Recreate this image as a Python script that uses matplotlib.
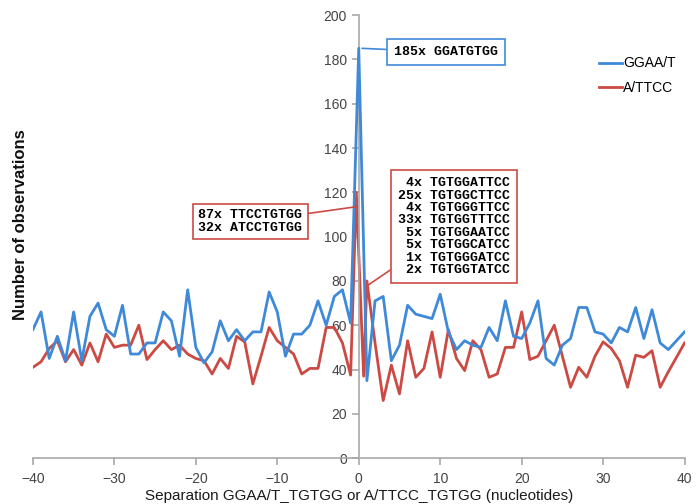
import matplotlib
matplotlib.use('Agg')
import matplotlib.pyplot as plt

# separation (nt) and counts
sep = list(range(-40, 41))
ggaa = [58, 66, 45, 55, 44, 66, 44, 64, 70, 58,
        55, 69, 47, 47, 52, 52, 66, 62, 46, 76,
        50, 43, 48, 62, 53, 58, 53, 57, 57, 75,
        66, 46, 56, 56, 60, 71, 60, 73, 76, 61,
        185,
        35, 71, 73, 44, 51, 69, 65, 64, 63, 74,
        57, 49, 53, 51, 50, 59, 53, 71, 55, 54,
        61, 71, 45, 42, 51, 54, 68, 68, 57, 56,
        52, 59, 57, 68, 54, 67, 52, 49, 53, 57]

sep_r = list(range(-40, 0)) + [-0.3, 0.6] + list(range(1, 41))
attcc = [41, 43.5, 49.5, 53, 43.5, 49, 42, 52, 43.5, 56,
         50, 51, 51, 60, 44.5, 49, 53, 49, 51, 47,
         45, 44, 38, 45, 40.5, 55, 52.5, 33.5, 46, 59,
         53, 50, 47, 38, 40.5, 40.5, 59, 59, 52, 37.5,
         120, 37,
         80, 52, 26, 42, 29, 53, 36.5, 40.5, 57, 36.5,
         58, 45, 39.5, 53, 49, 36.5, 38, 50, 50, 66,
         44.5, 46, 53, 60, 46, 32, 41, 36.5, 46, 52.5,
         49.5, 44, 32, 46.5, 45.5, 48.5, 32, 39, 45.5, 52]

BLUE = '#3f8ad8'
RED = '#cc4a44'
AXCOL = '#a8a8a8'

fig = plt.figure(figsize=(7, 5.04), dpi=100)
ax = fig.add_axes([0.047, 0.091, 0.931, 0.879])

ax.plot(sep, ggaa, color=BLUE, lw=2, label='GGAA/T', zorder=3)
ax.plot(sep_r, attcc, color=RED, lw=2, label='A/TTCC', zorder=2)

ax.set_xlim(-40, 40)
ax.set_ylim(0, 200)
ax.set_xticks(range(-40, 41, 10))
ax.set_yticks(range(0, 201, 20))

# y axis sits at separation 0
ax.spines['left'].set_position(('data', 0))
ax.spines['top'].set_visible(False)
ax.spines['right'].set_visible(False)
for s in ('left', 'bottom'):
    ax.spines[s].set_color(AXCOL)
    ax.spines[s].set_linewidth(1.2)
ax.tick_params(colors=AXCOL, length=5, width=1.2, labelcolor='#444444',
               labelsize=10)
ax.tick_params(axis='x', pad=5)
for t in ax.get_xticklabels() + ax.get_yticklabels():
    t.set_fontfamily('Liberation Sans')

ax.set_xlabel('Separation GGAA/T_TGTGG or A/TTCC_TGTGG (nucleotides)',
              fontsize=11, family='Liberation Sans', color='#1a1a1a', labelpad=2)
fig.text(0.03, 0.555, 'Number of observations', rotation=90, ha='center', va='center',
         fontsize=12, fontweight='bold', family='Liberation Sans', color='#111111')

leg = ax.legend(loc='upper left', bbox_to_anchor=(0.85, 0.935), frameon=False,
                handlelength=1.6, handletextpad=0.1, labelspacing=0.75,
                prop={'family': 'Liberation Sans', 'size': 10})

mono = dict(family='Liberation Mono', fontweight='bold', fontsize=9.5, linespacing=1.05)

ax.annotate('185x GGATGTGG', xy=(0.4, 185), xytext=(10.7, 183.3),
            ha='center', va='center', **mono,
            bbox=dict(boxstyle='square,pad=0.55', fc='white', ec=BLUE, lw=1.2),
            arrowprops=dict(arrowstyle='-', color=BLUE, lw=1.2, shrinkA=0, shrinkB=0))

ax.annotate('87x TTCCTGTGG\n32x ATCCTGTGG', xy=(-0.3, 113.5), xytext=(-13.3, 106.8),
            ha='center', va='center', **mono,
            bbox=dict(boxstyle='square,pad=0.4', fc='white', ec=RED, lw=1.2),
            arrowprops=dict(arrowstyle='-', color=RED, lw=1.2, shrinkA=0, shrinkB=0))

right_txt = '\n'.join([' 4x TGTGGATTCC', '25x TGTGGCTTCC', ' 4x TGTGGGTTCC',
                       '33x TGTGGTTTCC', ' 5x TGTGGAATCC', ' 5x TGTGGCATCC',
                       ' 1x TGTGGGATCC', ' 2x TGTGGTATCC'])
ax.annotate(right_txt, xy=(1.1, 78), xytext=(11.7, 104.5),
            ha='center', va='center', **mono,
            bbox=dict(boxstyle='square,pad=0.55', fc='white', ec=RED, lw=1.2),
            arrowprops=dict(arrowstyle='-', color=RED, lw=1.2, shrinkA=0, shrinkB=0))

fig.savefig('out.png', dpi=100)
